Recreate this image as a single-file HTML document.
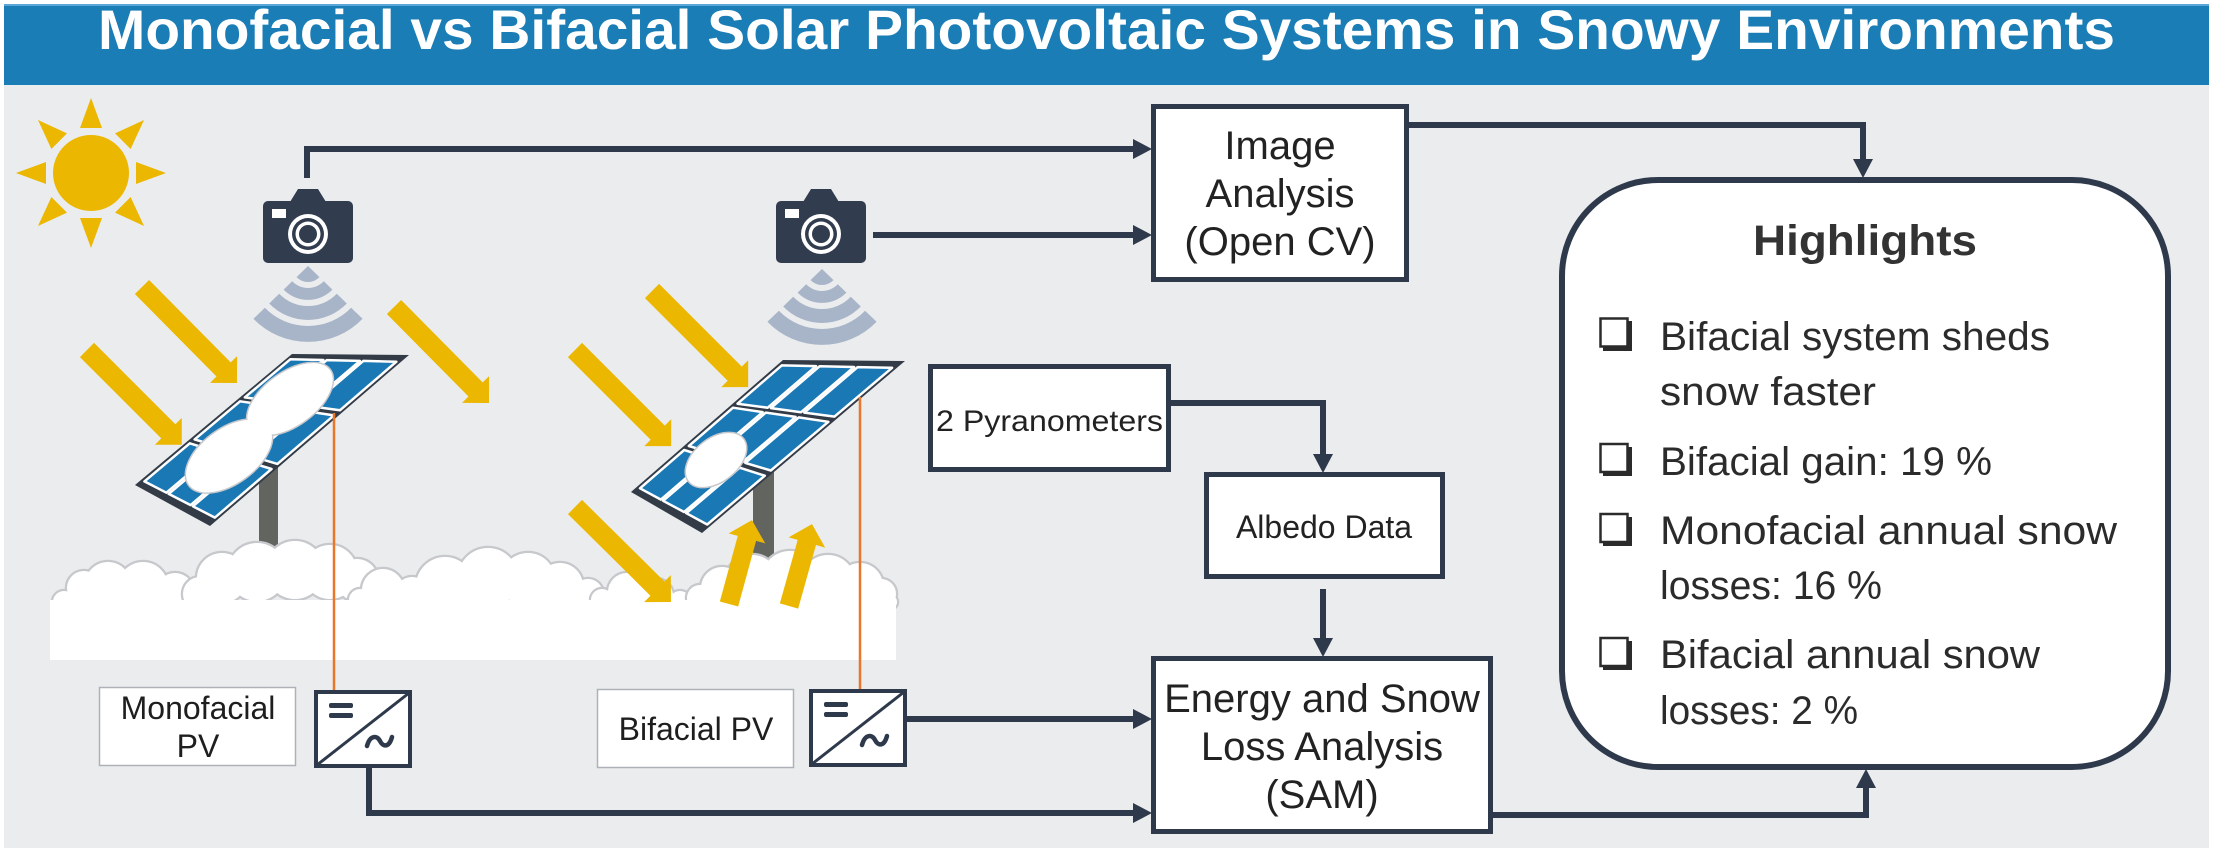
<!DOCTYPE html>
<html>
<head>
<meta charset="utf-8">
<style>
html,body{margin:0;padding:0;background:#fff;}
svg{display:block;}
text{font-family:"Liberation Sans", Arial, sans-serif;}
</style>
</head>
<body>
<svg width="2213" height="852" viewBox="0 0 2213 852" xmlns="http://www.w3.org/2000/svg">
  <!-- backgrounds -->
  <rect x="0" y="0" width="2213" height="852" fill="#ffffff"/>
  <rect x="4" y="4" width="2205" height="844" fill="#ebecee"/>
  <rect x="4" y="4" width="2205" height="81" fill="#1a7db6"/>
  <rect x="4" y="4" width="2205" height="2" fill="#5aa6d6"/>
  <text x="98" y="49" font-size="56" font-weight="bold" fill="#ffffff" textLength="2017" lengthAdjust="spacingAndGlyphs">Monofacial vs Bifacial Solar Photovoltaic Systems in Snowy Environments</text>

  <!-- sun -->
  <g fill="#ebb700">
    <circle cx="91" cy="173" r="38"/>
    <polygon points="91,98 80,128 102,128"/>
    <polygon points="91,98 80,128 102,128" transform="rotate(45 91 173)"/>
    <polygon points="91,98 80,128 102,128" transform="rotate(90 91 173)"/>
    <polygon points="91,98 80,128 102,128" transform="rotate(135 91 173)"/>
    <polygon points="91,98 80,128 102,128" transform="rotate(180 91 173)"/>
    <polygon points="91,98 80,128 102,128" transform="rotate(225 91 173)"/>
    <polygon points="91,98 80,128 102,128" transform="rotate(270 91 173)"/>
    <polygon points="91,98 80,128 102,128" transform="rotate(315 91 173)"/>
  </g>

  <!-- connectors (dark) -->
  <g fill="none" stroke="#2e3a4b" stroke-width="6">
    <polyline points="307,178 307,149 1134,149"/>
    <line x1="873" y1="235" x2="1134" y2="235"/>
    <polyline points="1409,125 1863,125 1863,160"/>
    <polyline points="1171,403 1323,403 1323,455"/>
    <line x1="1323" y1="589" x2="1323" y2="639"/>
    <line x1="907" y1="719" x2="1134" y2="719"/>
    <polyline points="369,768 369,813 1134,813"/>
    <polyline points="1493,815 1866,815 1866,787"/>
  </g>
  <g fill="#2e3a4b">
    <polygon points="1152,149 1133,139 1133,159"/>
    <polygon points="1152,235 1133,225 1133,245"/>
    <polygon points="1863,178 1853,159 1873,159"/>
    <polygon points="1323,473 1313,454 1333,454"/>
    <polygon points="1323,657 1313,638 1333,638"/>
    <polygon points="1152,719 1133,709 1133,729"/>
    <polygon points="1152,813 1133,803 1133,823"/>
    <polygon points="1866,769 1856,788 1876,788"/>
  </g>

  <!-- cameras -->
  <g>
    <rect x="263" y="201" width="90" height="62" rx="5" fill="#313c4e"/>
    <polygon points="290,202 298,189 318,189 326,202" fill="#313c4e"/>
    <rect x="272" y="209" width="14" height="9" fill="#ffffff"/>
    <circle cx="308" cy="234" r="20" fill="#ffffff"/>
    <circle cx="308" cy="234" r="16" fill="#313c4e"/>
    <circle cx="308" cy="234" r="12.5" fill="#ffffff"/>
    <circle cx="308" cy="234" r="9" fill="#313c4e"/>
  </g>
  <g transform="translate(513,0)">
    <rect x="263" y="201" width="90" height="62" rx="5" fill="#313c4e"/>
    <polygon points="290,202 298,189 318,189 326,202" fill="#313c4e"/>
    <rect x="272" y="209" width="14" height="9" fill="#ffffff"/>
    <circle cx="308" cy="234" r="20" fill="#ffffff"/>
    <circle cx="308" cy="234" r="16" fill="#313c4e"/>
    <circle cx="308" cy="234" r="12.5" fill="#ffffff"/>
    <circle cx="308" cy="234" r="9" fill="#313c4e"/>
  </g>

  <!-- wifi signals -->
  <g fill="#a8b5c8" transform="translate(308,266)">
    <path d="M0,0 L-11.5,11.1 A16,16 0 0 0 11.5,11.1 Z"/>
    <path d="M-24.4,23.6 A34,34 0 0 0 24.4,23.6 L15.8,15.3 A22,22 0 0 1 -15.8,15.3 Z"/>
    <path d="M-38.8,37.5 A54,54 0 0 0 38.8,37.5 L28.8,27.8 A40,40 0 0 1 -28.8,27.8 Z"/>
    <path d="M-54.6,52.8 A76,76 0 0 0 54.6,52.8 L43.1,41.7 A60,60 0 0 1 -43.1,41.7 Z"/>
  </g>
  <g fill="#a8b5c8" transform="translate(822,269)">
    <path d="M0,0 L-11.5,11.1 A16,16 0 0 0 11.5,11.1 Z"/>
    <path d="M-24.4,23.6 A34,34 0 0 0 24.4,23.6 L15.8,15.3 A22,22 0 0 1 -15.8,15.3 Z"/>
    <path d="M-38.8,37.5 A54,54 0 0 0 38.8,37.5 L28.8,27.8 A40,40 0 0 1 -28.8,27.8 Z"/>
    <path d="M-54.6,52.8 A76,76 0 0 0 54.6,52.8 L43.1,41.7 A60,60 0 0 1 -43.1,41.7 Z"/>
  </g>

  <!-- poles -->
  <polygon points="259,467 278,462 278,560 259,560" fill="#626460"/>
  <polygon points="753,478 774,472 774,565 753,565" fill="#626460"/>

  <!-- ground snow: clouds drawn in sequence so inner outlines show -->
  <g>
    <g fill="#ffffff" stroke="#c6c8cc" stroke-width="2.5">
      <circle cx="64" cy="602" r="12"/><circle cx="84" cy="588" r="18"/><circle cx="108" cy="585" r="24"/><circle cx="143" cy="587" r="26"/><circle cx="175" cy="592" r="20"/>
    </g>
    <g fill="#ffffff">
      <circle cx="64" cy="602" r="11"/><circle cx="84" cy="588" r="17"/><circle cx="108" cy="585" r="23"/><circle cx="143" cy="587" r="25"/><circle cx="175" cy="592" r="19"/>
    </g>
    <g fill="#ffffff" stroke="#c6c8cc" stroke-width="2.5">
      <circle cx="200" cy="594" r="18"/><circle cx="222" cy="578" r="26"/><circle cx="257" cy="572" r="30"/><circle cx="295" cy="570" r="30"/><circle cx="330" cy="572" r="28"/><circle cx="357" cy="580" r="22"/><circle cx="372" cy="592" r="15"/>
    </g>
    <g fill="#ffffff">
      <circle cx="200" cy="594" r="17"/><circle cx="222" cy="578" r="25"/><circle cx="257" cy="572" r="29"/><circle cx="295" cy="570" r="29"/><circle cx="330" cy="572" r="27"/><circle cx="357" cy="580" r="21"/><circle cx="372" cy="592" r="14"/>
    </g>
    <g fill="#ffffff" stroke="#c6c8cc" stroke-width="2.5">
      <circle cx="360" cy="600" r="12"/><circle cx="383" cy="590" r="22"/><circle cx="412" cy="594" r="18"/><circle cx="445" cy="586" r="30"/><circle cx="488" cy="578" r="31"/><circle cx="528" cy="580" r="28"/><circle cx="560" cy="586" r="24"/><circle cx="588" cy="594" r="16"/>
    </g>
    <g fill="#ffffff">
      <circle cx="360" cy="600" r="11"/><circle cx="383" cy="590" r="21"/><circle cx="412" cy="594" r="17"/><circle cx="445" cy="586" r="29"/><circle cx="488" cy="578" r="30"/><circle cx="528" cy="580" r="27"/><circle cx="560" cy="586" r="23"/><circle cx="588" cy="594" r="15"/>
    </g>
    <g fill="#ffffff" stroke="#c6c8cc" stroke-width="2.5">
      <circle cx="602" cy="600" r="12"/><circle cx="627" cy="592" r="20"/><circle cx="656" cy="596" r="18"/><circle cx="680" cy="602" r="12"/>
    </g>
    <g fill="#ffffff">
      <circle cx="602" cy="600" r="11"/><circle cx="627" cy="592" r="19"/><circle cx="656" cy="596" r="17"/><circle cx="680" cy="602" r="11"/>
    </g>
    <g fill="#ffffff" stroke="#c6c8cc" stroke-width="2.5">
      <circle cx="700" cy="598" r="14"/><circle cx="722" cy="588" r="22"/><circle cx="752" cy="582" r="28"/><circle cx="790" cy="580" r="30"/><circle cx="828" cy="582" r="28"/><circle cx="860" cy="586" r="24"/><circle cx="881" cy="594" r="16"/><circle cx="890" cy="602" r="8"/>
    </g>
    <g fill="#ffffff">
      <circle cx="700" cy="598" r="13"/><circle cx="722" cy="588" r="21"/><circle cx="752" cy="582" r="27"/><circle cx="790" cy="580" r="29"/><circle cx="828" cy="582" r="27"/><circle cx="860" cy="586" r="23"/><circle cx="881" cy="594" r="15"/><circle cx="890" cy="602" r="7"/>
    </g>
    <rect x="50" y="600" width="846" height="60" fill="#ffffff"/>
  </g>

  <!-- panel 1 -->
  <polygon points="292,354 409,355 210,526 135,485" fill="#333b47"/>
  <g fill="#1a78b5" stroke="#ffffff" stroke-width="2.5" stroke-linejoin="round">
    <polygon points="290.3,359.3 323.4,360.0 274.4,401.4 244.8,397.4"/>
    <polygon points="326.8,360.1 359.9,360.9 307.2,405.9 277.5,401.8"/>
    <polygon points="363.3,360.9 396.4,361.7 339.9,410.3 310.3,406.3"/>
    <polygon points="240.1,401.3 269.3,405.7 220.4,447.0 194.6,439.4"/>
    <polygon points="272.4,406.2 301.6,410.5 248.9,455.5 223.1,447.8"/>
    <polygon points="304.7,411.0 333.9,415.4 277.4,463.9 251.6,456.3"/>
    <polygon points="189.8,443.3 215.3,451.3 166.4,492.7 144.4,481.4"/>
    <polygon points="217.9,452.2 243.4,460.2 190.6,505.1 168.7,493.9"/>
    <polygon points="246.0,461.0 271.5,469.0 214.9,517.6 192.9,506.3"/>
  </g>
  <!-- snow on panel 1 -->
  <g fill="#ffffff" stroke="#c6c8cc" stroke-width="1.5">
    <ellipse cx="290" cy="399" rx="50" ry="27" transform="rotate(-36 290 399)"/>
    <ellipse cx="229" cy="456" rx="50" ry="28" transform="rotate(-36 229 456)"/>
  </g>
  <g fill="#ffffff">
    <ellipse cx="290" cy="399" rx="49" ry="26" transform="rotate(-36 290 399)"/>
    <ellipse cx="229" cy="456" rx="49" ry="27" transform="rotate(-36 229 456)"/>
  </g>

  <!-- panel 2 -->
  <polygon points="783,360 905,361 702,533 631,492" fill="#333b47"/>
  <g fill="#1a78b5" stroke="#ffffff" stroke-width="2.5" stroke-linejoin="round">
    <polygon points="781.7,365.4 816.1,366.1 767.7,407.7 737.5,403.7"/>
    <polygon points="819.7,366.2 854.1,367.0 801.1,412.2 770.9,408.1"/>
    <polygon points="857.7,367.1 892.1,367.8 834.5,416.6 804.3,412.6"/>
    <polygon points="733.0,407.7 762.7,412.1 714.3,453.6 688.8,446.0"/>
    <polygon points="765.8,412.6 795.6,416.9 742.6,462.1 717.0,454.4"/>
    <polygon points="798.7,417.4 828.4,421.8 770.8,470.5 745.3,462.9"/>
    <polygon points="684.2,450.0 709.3,458.0 660.9,499.6 640.0,488.3"/>
    <polygon points="711.9,458.9 737.1,466.9 684.1,512.0 663.1,500.8"/>
    <polygon points="739.7,467.7 764.8,475.7 707.2,524.5 686.3,513.2"/>
  </g>
  <ellipse cx="716" cy="460" rx="35" ry="22" transform="rotate(-38 716 460)" fill="#ffffff" stroke="#c6c8cc" stroke-width="1.5"/>

  <!-- yellow arrows -->
  <g fill="#ebb700">
    <path d="M0,-10 L116,-10 L116,-19 L135,0 L116,19 L116,10 L0,10 Z" transform="translate(142,287) rotate(45.3)"/>
    <path d="M0,-10 L115,-10 L115,-19 L134,0 L115,19 L115,10 L0,10 Z" transform="translate(87,350) rotate(45)"/>
    <path d="M0,-10 L116,-10 L116,-19 L135,0 L116,19 L116,10 L0,10 Z" transform="translate(394,307) rotate(45.3)"/>
    <path d="M0,-10 L117,-10 L117,-19 L136,0 L117,19 L117,10 L0,10 Z" transform="translate(652,291) rotate(45)"/>
    <path d="M0,-10 L117,-10 L117,-19 L136,0 L117,19 L117,10 L0,10 Z" transform="translate(575,350) rotate(45)"/>
    <path d="M0,-10 L116,-10 L116,-19 L135,0 L116,19 L116,10 L0,10 Z" transform="translate(575,507) rotate(44.7)"/>
    <path d="M0,-9.5 L68,-9.5 L68,-19 L87,0 L68,19 L68,9.5 L0,9.5 Z" transform="translate(729,604) rotate(-74.7)"/>
    <path d="M0,-9.5 L66,-9.5 L66,-19 L85,0 L66,19 L66,9.5 L0,9.5 Z" transform="translate(789,606) rotate(-74.3)"/>
  </g>

  <!-- orange wires -->
  <line x1="334" y1="413" x2="334" y2="691" stroke="#e8772a" stroke-width="2.5"/>
  <line x1="860" y1="397" x2="860" y2="690" stroke="#e8772a" stroke-width="2.5"/>

  <!-- label boxes -->
  <rect x="99.5" y="687.5" width="196" height="78" fill="#ffffff" stroke="#aeb2b8" stroke-width="1.5"/>
  <text x="198" y="719" font-size="32" fill="#1e1e1e" text-anchor="middle">Monofacial</text>
  <text x="198" y="757" font-size="32" fill="#1e1e1e" text-anchor="middle">PV</text>
  <rect x="597.5" y="689.5" width="196" height="78" fill="#ffffff" stroke="#aeb2b8" stroke-width="1.5"/>
  <text x="696" y="740" font-size="32" fill="#1e1e1e" text-anchor="middle">Bifacial PV</text>

  <!-- inverters -->
  <g>
    <rect x="316" y="692" width="94" height="74" fill="#ffffff" stroke="#2e3a4b" stroke-width="4"/>
    <line x1="317" y1="765" x2="409" y2="693" stroke="#2e3a4b" stroke-width="3"/>
    <rect x="329" y="703" width="24" height="5" rx="2" fill="#2e3a4b"/>
    <rect x="329" y="713" width="24" height="5" rx="2" fill="#2e3a4b"/>
    <path d="M367,746 C370,735 377,735 380,741 C383,747 389,748 392,737" fill="none" stroke="#2e3a4b" stroke-width="4.5" stroke-linecap="round"/>
  </g>
  <g transform="translate(495,-1)">
    <rect x="316" y="692" width="94" height="74" fill="#ffffff" stroke="#2e3a4b" stroke-width="4"/>
    <line x1="317" y1="765" x2="409" y2="693" stroke="#2e3a4b" stroke-width="3"/>
    <rect x="329" y="703" width="24" height="5" rx="2" fill="#2e3a4b"/>
    <rect x="329" y="713" width="24" height="5" rx="2" fill="#2e3a4b"/>
    <path d="M367,746 C370,735 377,735 380,741 C383,747 389,748 392,737" fill="none" stroke="#2e3a4b" stroke-width="4.5" stroke-linecap="round"/>
  </g>

  <!-- process boxes -->
  <g fill="#ffffff" stroke="#2e3a4b" stroke-width="5">
    <rect x="1153.5" y="106.5" width="253" height="173"/>
    <rect x="930.5" y="366.5" width="238" height="103"/>
    <rect x="1206.5" y="474.5" width="236" height="102"/>
    <rect x="1153.5" y="658.5" width="337" height="173"/>
  </g>
  <g fill="#222222" font-size="40" text-anchor="middle">
    <text x="1280" y="159">Image</text>
    <text x="1280" y="207">Analysis</text>
    <text x="1280" y="255">(Open CV)</text>
    <text x="1322" y="712">Energy and Snow</text>
    <text x="1322" y="760">Loss Analysis</text>
    <text x="1322" y="808">(SAM)</text>
  </g>
  <text x="936" y="431" font-size="30" fill="#222222" textLength="227" lengthAdjust="spacingAndGlyphs">2 Pyranometers</text>
  <text x="1324" y="538" font-size="32" fill="#222222" text-anchor="middle">Albedo Data</text>

  <!-- highlights -->
  <rect x="1562" y="180" width="606" height="587" rx="96" ry="96" fill="#ffffff" stroke="#2e3a4b" stroke-width="6"/>
  <text x="1865" y="255" font-size="43" font-weight="bold" fill="#333333" text-anchor="middle" textLength="224" lengthAdjust="spacingAndGlyphs">Highlights</text>
  <g fill="#2b2b2b">
    <rect x="1603" y="321" width="29" height="30"/>
    <rect x="1603" y="447" width="29" height="29"/>
    <rect x="1603" y="517" width="29" height="29"/>
    <rect x="1603" y="641" width="29" height="29"/>
  </g>
  <g fill="#ffffff" stroke="#2b2b2b" stroke-width="2.5">
    <rect x="1600.5" y="318.5" width="27" height="28"/>
    <rect x="1600.5" y="444" width="27" height="28"/>
    <rect x="1600.5" y="514" width="27" height="28"/>
    <rect x="1600.5" y="638" width="27" height="28"/>
  </g>
  <g fill="#2b2b2b" font-size="40">
    <text x="1660" y="350" textLength="390" lengthAdjust="spacingAndGlyphs">Bifacial system sheds</text>
    <text x="1660" y="405" textLength="216" lengthAdjust="spacingAndGlyphs">snow faster</text>
    <text x="1660" y="475" textLength="332" lengthAdjust="spacingAndGlyphs">Bifacial gain: 19 %</text>
    <text x="1660" y="544" textLength="457" lengthAdjust="spacingAndGlyphs">Monofacial annual snow</text>
    <text x="1660" y="599" textLength="222" lengthAdjust="spacingAndGlyphs">losses: 16 %</text>
    <text x="1660" y="668" textLength="380" lengthAdjust="spacingAndGlyphs">Bifacial annual snow</text>
    <text x="1660" y="724" textLength="198" lengthAdjust="spacingAndGlyphs">losses: 2 %</text>
  </g>
</svg>
</body>
</html>
